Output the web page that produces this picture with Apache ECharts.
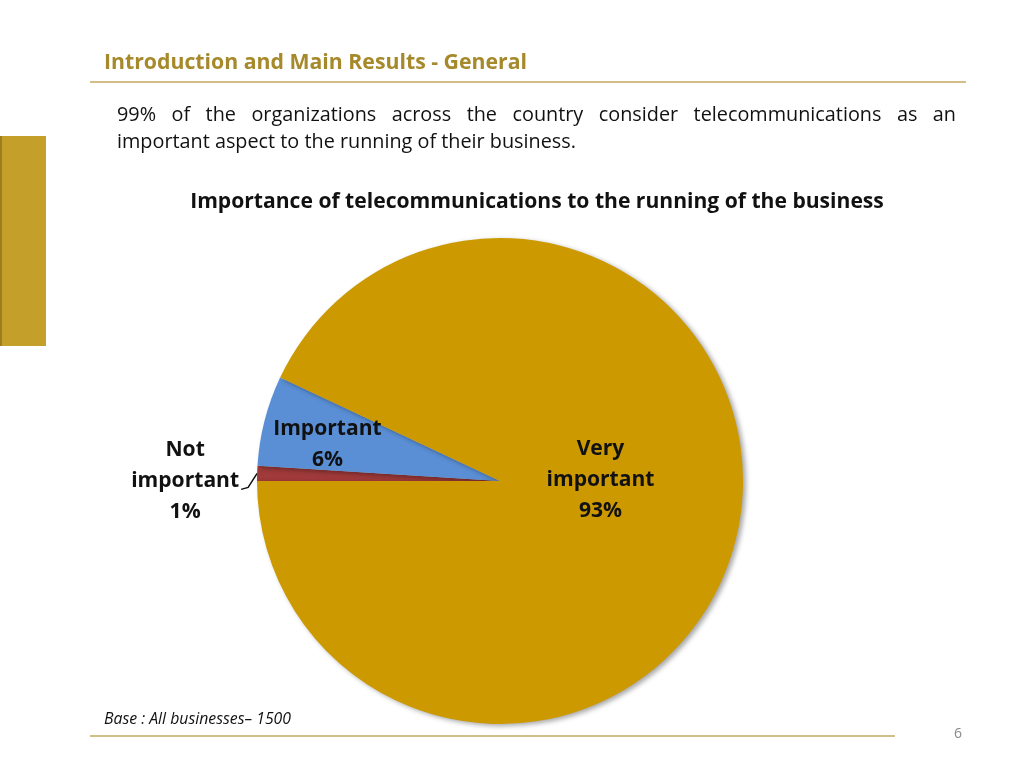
<!DOCTYPE html>
<html><head><meta charset="utf-8">
<style>html,body{margin:0;padding:0;background:#fff}#c{width:1024px;height:768px}</style>
<script src="https://cdn.jsdelivr.net/npm/echarts@6/dist/echarts.min.js"></script>
</head><body><div id="c"></div>
<script>
const categories = ['Not important', 'Important', 'Very important'];
const values = [1, 6, 93];
const labelTexts = ['Not\nimportant\n1%', 'Important\n6%', 'Very\nimportant\n93%'];
const colors = ['#A13A3A', '#5A8FD6', '#CC9900'];
const pageTitle = 'Introduction and Main Results - General';
const line1 = '99% of the organizations across the country consider telecommunications as an';
const line2 = 'important aspect to the running of their business.';
const chartTitle = 'Importance of telecommunications to the running of the business';
const baseNote = 'Base : All businesses\u2013 1500';
const pageNum = '6';

const FAM = '"Open Sans", Lato, sans-serif';
const chart = echarts.init(document.getElementById('c'));

const cv = document.createElement('canvas').getContext('2d');
function fit(text, pre, target) {
  cv.font = pre + ' 100px ' + FAM;
  return target / cv.measureText(text).width * 100;
}
const titleSize = fit(pageTitle, 'bold', 423);
const paraSize = fit(line2, 'normal', 459);
const chartTitleSize = fit(chartTitle, 'bold', 694);
const baseSize = fit(baseNote, 'italic', 187);
const labelSize = fit('important', 'bold', 108);

// justify first line of paragraph
const pFont = paraSize.toFixed(2) + 'px ' + FAM;
cv.font = pFont;
const words = line1.split(' ');
const widths = words.map(w => cv.measureText(w).width);
const x0 = 117, x1 = 956;
const gap = (x1 - x0 - widths.reduce((a, b) => a + b, 0)) / (words.length - 1);
const wordEls = [];
let cx = x0;
words.forEach((w, i) => {
  wordEls.push({type: 'text', style: {x: cx, y: 115, text: w, font: pFont, fill: '#111', verticalAlign: 'middle'}});
  cx += widths[i] + gap;
});

const option = {
  animation: false,
  backgroundColor: '#fff',
  graphic: [
    {type: 'rect', shape: {x: 0, y: 136, width: 46, height: 210}, style: {fill: '#C4A02A'}},
    {type: 'rect', shape: {x: 0, y: 136, width: 2, height: 210}, style: {fill: '#9E7D1E'}},
    {type: 'text', style: {x: 104, y: 63, text: pageTitle, font: 'bold ' + titleSize.toFixed(2) + 'px ' + FAM, fill: '#A6892B', verticalAlign: 'middle'}},
    {type: 'line', shape: {x1: 90, y1: 82, x2: 966, y2: 82}, style: {stroke: '#D2BE86', lineWidth: 2}},
    ...wordEls,
    {type: 'text', style: {x: 117, y: 142, text: line2, font: pFont, fill: '#111', verticalAlign: 'middle'}},
    {type: 'text', style: {x: 537, y: 202, text: chartTitle, font: 'bold ' + chartTitleSize.toFixed(2) + 'px ' + FAM, fill: '#111', align: 'center', verticalAlign: 'middle'}},
    {type: 'text', style: {x: 104, y: 719, text: baseNote, font: 'italic ' + baseSize.toFixed(2) + 'px ' + FAM, fill: '#111', verticalAlign: 'middle'}},
    {type: 'line', shape: {x1: 90, y1: 736, x2: 895, y2: 736}, style: {stroke: '#D2BE86', lineWidth: 2}},
    {type: 'text', style: {x: 958, y: 734, text: pageNum, font: '14px ' + FAM, fill: '#888', align: 'center', verticalAlign: 'middle'}}
  ],
  series: [{
    type: 'pie',
    center: [500, 481],
    radius: [0, 243],
    startAngle: 180,
    clockwise: true,
    silent: true,
    itemStyle: {shadowColor: 'rgba(0,0,0,0.35)', shadowBlur: 5, shadowOffsetX: 3, shadowOffsetY: 2},
    label: {
      fontFamily: FAM, fontSize: labelSize, fontWeight: 'bold', color: '#111', lineHeight: 31,
      formatter: p => labelTexts[p.dataIndex]
    },
    labelLine: {lineStyle: {color: '#111', width: 1.5}},
    labelLayout: function (p) {
      if (p.dataIndex === 2) return {dx: -21, dy: -28};
      if (p.dataIndex === 1) return {dx: -52, dy: -6};
      const res = {dy: 8, align: 'center', dx: -p.labelRect.width / 2};
      const pts = p.labelLinePoints;
      if (pts) {
        const a = pts[0];
        res.labelLinePoints = [[a[0], a[1]], [a[0] - 9, a[1] + 14], [a[0] - 16, a[1] + 16]];
      }
      return res;
    },
    data: categories.map((c, i) => ({
      name: c, value: values[i],
      itemStyle: {color: colors[i]},
      label: i === 0 ? {position: 'outside'} : {position: 'inside'},
      labelLine: i === 0 ? {show: true, length: 8, length2: 5} : {show: false}
    }))
  }]
};
chart.setOption(option);
</script></body></html>
